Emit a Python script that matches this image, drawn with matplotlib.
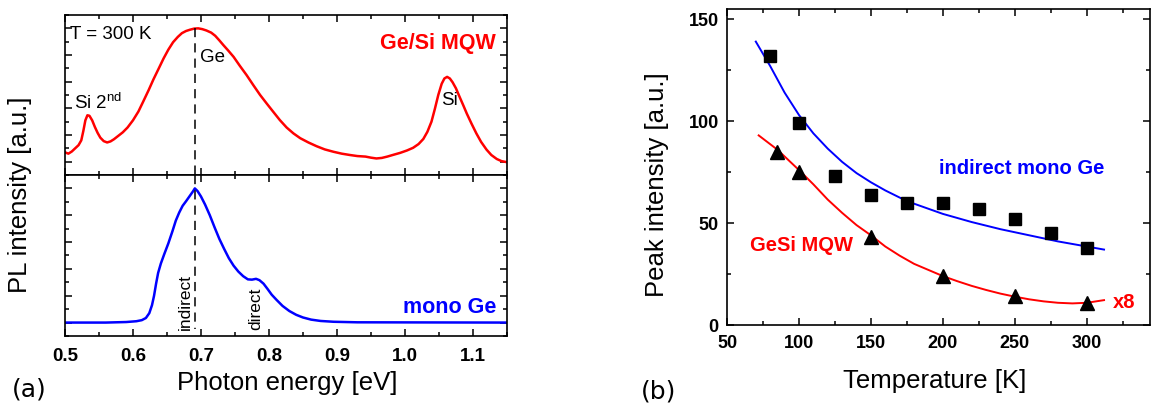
import matplotlib
matplotlib.use("Agg")
import matplotlib.pyplot as plt
from matplotlib.ticker import MultipleLocator

plt.rcParams['font.family'] = ['Liberation Sans', 'DejaVu Sans']
plt.rcParams['mathtext.fontset'] = 'custom'
plt.rcParams['mathtext.rm'] = 'Liberation Sans'

# --- (a) PL spectra ---
mqw_energy = [0.500, 0.505, 0.510, 0.515, 0.520, 0.524, 0.527, 0.530, 0.533, 0.536,
              0.540, 0.544, 0.548, 0.552, 0.557, 0.562, 0.567, 0.572, 0.578, 0.585,
              0.592, 0.600, 0.608, 0.615, 0.623, 0.630, 0.638, 0.645, 0.652, 0.659,
              0.666, 0.672, 0.678, 0.684, 0.690, 0.696, 0.702, 0.708, 0.715, 0.721,
              0.727, 0.733, 0.740, 0.748, 0.757, 0.767, 0.777, 0.787, 0.797, 0.806,
              0.816, 0.826, 0.836, 0.846, 0.858, 0.870, 0.882, 0.895, 0.907, 0.919,
              0.930, 0.942, 0.950, 0.958, 0.966, 0.974, 0.982, 0.993, 1.003, 1.012,
              1.020, 1.027, 1.033, 1.039, 1.044, 1.049, 1.054, 1.058, 1.062, 1.066,
              1.070, 1.075, 1.080, 1.086, 1.091, 1.098, 1.105, 1.112, 1.120, 1.127,
              1.135, 1.142, 1.150]
mqw_pl = [0.35, 0.30, 0.38, 0.50, 0.62, 0.80, 1.15, 1.55, 1.74, 1.72,
          1.55, 1.30, 1.08, 0.90, 0.77, 0.72, 0.76, 0.84, 0.96, 1.10,
          1.28, 1.55, 1.88, 2.25, 2.68, 3.08, 3.50, 3.87, 4.20, 4.48,
          4.68, 4.82, 4.90, 4.95, 4.99, 5.00, 4.97, 4.92, 4.84, 4.72,
          4.55, 4.37, 4.17, 3.93, 3.60, 3.25, 2.87, 2.50, 2.17, 1.88,
          1.56, 1.28, 1.06, 0.88, 0.72, 0.58, 0.46, 0.37, 0.30, 0.25,
          0.21, 0.19, 0.15, 0.12, 0.14, 0.19, 0.25, 0.33, 0.42, 0.52,
          0.66, 0.85, 1.12, 1.50, 1.98, 2.50, 2.92, 3.12, 3.18, 3.12,
          2.98, 2.75, 2.45, 2.10, 1.80, 1.42, 1.06, 0.74, 0.45, 0.25,
          0.10, 0.02, -0.02]

ge_energy = [0.500, 0.560, 0.590, 0.605, 0.613, 0.619, 0.624, 0.628, 0.631, 0.634,
             0.637, 0.641, 0.646, 0.652, 0.658, 0.663, 0.668, 0.673, 0.678, 0.683,
             0.688, 0.691, 0.695, 0.700, 0.706, 0.713, 0.720, 0.727, 0.734, 0.741,
             0.748, 0.755, 0.762, 0.769, 0.775, 0.781, 0.786, 0.792, 0.798, 0.804,
             0.811, 0.820, 0.830, 0.840, 0.850, 0.862, 0.876, 0.895, 0.930, 1.150]
ge_pl = [0.00, 0.00, 0.02, 0.05, 0.09, 0.17, 0.35, 0.65, 1.00, 1.45,
         1.85, 2.20, 2.55, 2.95, 3.40, 3.80, 4.10, 4.35, 4.52, 4.70,
         4.88, 5.00, 4.90, 4.70, 4.40, 4.00, 3.55, 3.12, 2.75, 2.40,
         2.12, 1.90, 1.73, 1.61, 1.60, 1.63, 1.58, 1.45, 1.25, 1.04,
         0.85, 0.62, 0.43, 0.29, 0.19, 0.11, 0.06, 0.03, 0.01, 0.00]

peak_energy = 0.691

# --- (b) peak intensity vs temperature ---
temp_ge = [80, 100, 125, 150, 175, 200, 225, 250, 275, 300]
peak_ge = [132, 99, 73, 64, 60, 60, 57, 52, 45, 38]
temp_mqw = [85, 100, 150, 200, 250, 300]
peak_mqw = [85, 75, 43, 24, 14, 11]

fit_temp_ge = [70, 80, 90, 100, 110, 120, 130, 140, 150, 160, 170, 180, 190, 200,
               220, 240, 260, 280, 300, 312]
fit_ge = [139, 127, 114, 103, 94, 86.5, 80, 74.5, 70, 66, 62.5, 59.5, 57, 54.5,
          50.5, 47, 44, 41, 38.5, 37]
fit_temp_mqw = [72, 85, 100, 110, 120, 130, 140, 150, 160, 170, 180, 190, 200, 210,
                220, 230, 240, 250, 260, 270, 280, 290, 300, 312]
fit_mqw = [93, 86, 76, 69, 61.5, 55, 49, 44, 38.5, 34, 30, 27, 24, 21.5,
           19.2, 17.2, 15.4, 13.9, 12.6, 11.6, 10.9, 10.6, 10.9, 12.2]

W, H = 1154, 408
fig = plt.figure(figsize=(W / 100, H / 100), dpi=100)
ax_top = fig.add_axes([0.0563, 0.5711, 0.3830, 0.3921])
ax_bot = fig.add_axes([0.0563, 0.1765, 0.3830, 0.3946], sharex=ax_top)
ax_b = fig.add_axes([0.6300, 0.2034, 0.3666, 0.7746])

for ax in (ax_top, ax_bot, ax_b):
    for s in ax.spines.values():
        s.set_linewidth(1.2)
    ax.tick_params(which='both', direction='in', top=True, right=True, width=1.1)
    ax.tick_params(which='major', length=5)
    ax.tick_params(which='minor', length=3)

# upper spectrum
ax_top.plot(mqw_energy, mqw_pl, color='red', lw=1.8)
ax_top.plot([peak_energy, peak_energy], [5.0, -0.5], color='black', lw=1.1, ls=(0, (6, 4)))
ax_top.set_ylim(-0.5, 5.5)
ax_top.yaxis.set_major_locator(MultipleLocator(1))
ax_top.yaxis.set_minor_locator(MultipleLocator(0.5))
ax_top.tick_params(labelbottom=False, labelleft=False)
ax_top.text(0.507, 4.78, 'T = 300 K', fontsize=13.5, va='center', ha='left')
ax_top.text(1.133, 4.44, 'Ge/Si MQW', fontsize=15.5, fontweight='bold', color='red',
            va='center', ha='right')
ax_top.text(0.698, 3.92, 'Ge', fontsize=13.5, va='center', ha='left')
ax_top.text(0.513, 2.2, r'Si 2$^{\mathrm{nd}}$', fontsize=13.5, va='center', ha='left')
ax_top.text(1.066, 2.31, 'Si', fontsize=13.5, va='center', ha='center')

# lower spectrum
ax_bot.plot(ge_energy, ge_pl, color='blue', lw=1.8)
ax_bot.plot([peak_energy, peak_energy], [5.5, -0.25], color='black', lw=1.1, ls=(0, (6, 4)))
ax_bot.set_ylim(-0.5, 5.5)
ax_bot.set_xlim(0.5, 1.15)
ax_bot.yaxis.set_major_locator(MultipleLocator(1))
ax_bot.yaxis.set_minor_locator(MultipleLocator(0.5))
ax_bot.xaxis.set_major_locator(MultipleLocator(0.1))
ax_bot.xaxis.set_minor_locator(MultipleLocator(0.05))
ax_bot.tick_params(labelleft=False)
ax_bot.tick_params(axis='x', pad=9)
ax_bot.text(1.135, 0.58, 'mono Ge', fontsize=15.5, fontweight='bold', color='blue',
            va='center', ha='right')
ax_bot.text(0.677, -0.28, 'indirect', fontsize=12.5, rotation=90, va='bottom', ha='center')
ax_bot.text(0.781, -0.28, 'direct', fontsize=12.5, rotation=90, va='bottom', ha='center')
for lab in ax_bot.get_xticklabels():
    lab.set_fontweight('bold')
    lab.set_fontsize(13.5)
fig.text(287 / W, 1 - 383 / H, 'Photon energy [eV]', fontsize=18.5, va='center', ha='center')
fig.text(20 / W, 1 - 195 / H, 'PL intensity [a.u.]', rotation=90, fontsize=18.5,
         va='center', ha='center')
fig.text(29 / W, 1 - 390 / H, '(a)', fontsize=18, family='DejaVu Sans', va='center', ha='center')

# (b)
ax_b.plot(fit_temp_ge, fit_ge, color='blue', lw=1.4)
ax_b.plot(fit_temp_mqw, fit_mqw, color='red', lw=1.4)
ax_b.plot(temp_ge, peak_ge, 's', color='black', ms=8, ls='none')
ax_b.plot(temp_mqw, peak_mqw, '^', color='black', ms=9.5, ls='none')
ax_b.set_xlim(50, 344)
ax_b.set_ylim(0, 155)
ax_b.xaxis.set_major_locator(MultipleLocator(50))
ax_b.xaxis.set_minor_locator(MultipleLocator(25))
ax_b.yaxis.set_major_locator(MultipleLocator(50))
ax_b.yaxis.set_minor_locator(MultipleLocator(25))
ax_b.set_xticks([50, 100, 150, 200, 250, 300])
ax_b.tick_params(axis='x', pad=7)
ax_b.tick_params(axis='y', pad=6)
for lab in ax_b.get_xticklabels() + ax_b.get_yticklabels():
    lab.set_fontweight('bold')
    lab.set_fontsize(13)
fig.text(935 / W, 1 - 381 / H, 'Temperature [K]', fontsize=18.5, va='center', ha='center')
fig.text(657 / W, 1 - 185 / H, 'Peak intensity [a.u.]', rotation=90, fontsize=18.5,
         va='center', ha='center')
ax_b.text(197, 77, 'indirect mono Ge', fontsize=14.5, fontweight='bold', color='blue',
          va='center', ha='left')
ax_b.text(66, 39, 'GeSi MQW', fontsize=14.5, fontweight='bold', color='red',
          va='center', ha='left')
ax_b.text(318, 11, 'x8', fontsize=14.5, fontweight='bold', color='red',
          va='center', ha='left')
fig.text(659 / W, 1 - 392 / H, '(b)', fontsize=18, family='DejaVu Sans', va='center', ha='center')

fig.savefig('out.png', dpi=100)
